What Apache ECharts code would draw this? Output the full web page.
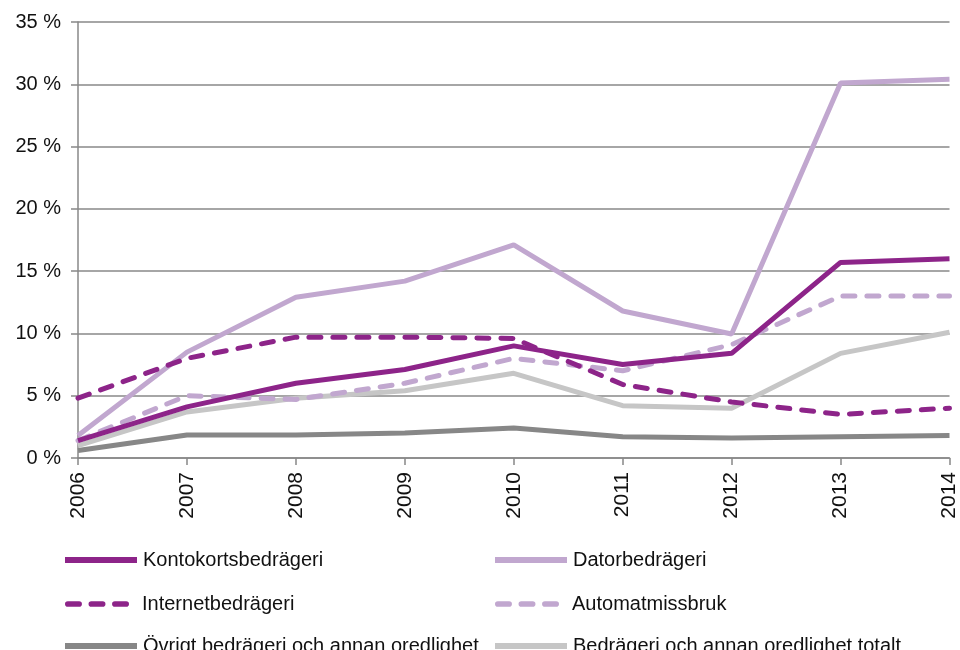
<!DOCTYPE html>
<html>
<head>
<meta charset="utf-8">
<script src="https://cdn.jsdelivr.net/npm/echarts@6/dist/echarts.min.js"></script>
<style>
  html, body { margin: 0; padding: 0; background: #fff; }
  #chart { width: 960px; height: 650px; }
</style>
</head>
<body>
<div id="chart"></div>
<script>
var years = ['2006', '2007', '2008', '2009', '2010', '2011', '2012', '2013', '2014'];

var kontokort = [1.4, 4.1, 6.0, 7.1, 9.0, 7.5, 8.4, 15.7, 16.0];
var dator = [1.8, 8.5, 12.9, 14.2, 17.1, 11.8, 9.95, 30.1, 30.4];
var internet = [4.8, 8.0, 9.7, 9.7, 9.6, 5.9, 4.5, 3.5, 4.0];
var automat = [1.4, 5.0, 4.7, 6.0, 8.0, 7.0, 9.1, 13.0, 13.0];
var ovrigt = [0.6, 1.85, 1.85, 2.0, 2.4, 1.7, 1.6, 1.7, 1.8];
var totalt = [1.0, 3.7, 4.8, 5.4, 6.8, 4.2, 4.0, 8.4, 10.1];

var dark = '#8d2489';
var light = '#c1a7cf';
var grayDark = '#878787';
var grayLight = '#c6c6c6';
var font = 'Liberation Sans';

var solidIcon = 'rect';
var dashIcon = 'path://M3,0h12a3,3 0 0 1 0,6h-12a3,3 0 0 1 0,-6z' +
  'M28,0h12a3,3 0 0 1 0,6h-12a3,3 0 0 1 0,-6z' +
  'M53,0h12a3,3 0 0 1 0,6h-12a3,3 0 0 1 0,-6z';

function line(name, data, color, dashed) {
  return {
    name: name,
    type: 'line',
    data: data,
    symbol: 'none',
    lineStyle: { color: color, width: 5, type: dashed ? [12, 12] : 'solid', cap: dashed ? 'round' : 'butt' },
    itemStyle: { color: color }
  };
}

// one legend per entry so the two columns sit where the reference has them
function leg(name, left, top, dashed) {
  return {
    left: left, top: top,
    icon: dashed ? dashIcon : solidIcon,
    itemWidth: dashed ? 64 : 72, itemHeight: 6,
    itemGap: 0,
    textStyle: { fontFamily: font, fontSize: 20, color: '#111', padding: [0, 0, 0, dashed ? 8 : 1] },
    data: [name]
  };
}

var chart = echarts.init(document.getElementById('chart'));
chart.setOption({
  animation: false,
  grid: { left: 78, right: 10, top: 22, bottom: 192, containLabel: false },
  legend: [
    leg('Kontokortsbedrägeri', 60, 545, false),
    leg('Internetbedrägeri', 60, 589, true),
    leg('Övrigt bedrägeri och annan oredlighet', 60, 631, false),
    leg('Datorbedrägeri', 490, 545, false),
    leg('Automatmissbruk', 490, 589, true),
    leg('Bedrägeri och annan oredlighet totalt', 490, 631, false)
  ],
  xAxis: {
    type: 'category',
    data: years,
    boundaryGap: false,
    axisLine: { lineStyle: { color: '#888', width: 1.5 } },
    axisTick: { show: true, length: 7, lineStyle: { color: '#888', width: 1.5 } },
    axisLabel: { rotate: 90, fontFamily: font, fontSize: 21, color: '#111', margin: 14 }
  },
  yAxis: {
    type: 'value',
    min: 0, max: 35, interval: 5,
    axisLine: { show: true, lineStyle: { color: '#888', width: 1.5 } },
    axisTick: { show: true, length: 7, lineStyle: { color: '#888', width: 1.5 } },
    splitLine: { lineStyle: { color: '#888', width: 1.5 } },
    axisLabel: { formatter: '{value} %', fontFamily: font, fontSize: 20, color: '#111', margin: 17 }
  },
  series: [
    line('Övrigt bedrägeri och annan oredlighet', ovrigt, grayDark, false),
    line('Bedrägeri och annan oredlighet totalt', totalt, grayLight, false),
    line('Automatmissbruk', automat, light, true),
    line('Datorbedrägeri', dator, light, false),
    line('Internetbedrägeri', internet, dark, true),
    line('Kontokortsbedrägeri', kontokort, dark, false)
  ]
});
</script>
</body>
</html>
